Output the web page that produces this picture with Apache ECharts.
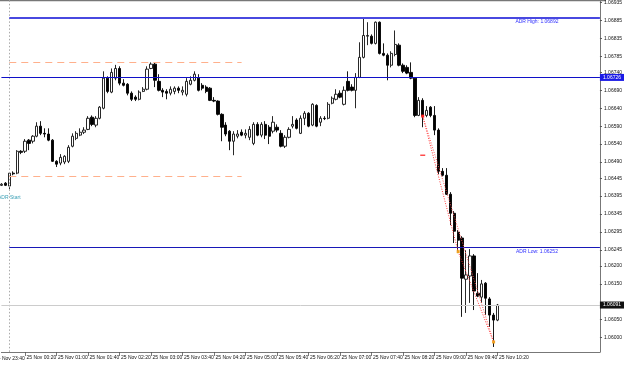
<!DOCTYPE html>
<html>
<head>
<meta charset="utf-8">
<script src="https://cdn.jsdelivr.net/npm/echarts@6/dist/echarts.min.js"></script>
<style>
  html, body { margin: 0; padding: 0; background: #fff; }
  #chart { width: 625px; height: 365px; }
</style>
</head>
<body>
<div id="chart"></div>
<script>
// EURUSD M5 style chart, 24 Nov 23:50 .. 25 Nov 10:20 plus empty shift space on the right

const SLOT_COUNT = 153;

const opens = [
  1.06425, 1.06431, 1.06423, 1.06459, 1.06459, 1.06520, 1.06520, 1.06551, 1.06548, 1.06562,
  1.06590, 1.06570, 1.06568, 1.06551, 1.06492, 1.06487, 1.06490, 1.06492, 1.06534, 1.06556,
  1.06565, 1.06573, 1.06581, 1.06615, 1.06593, 1.06612, 1.06640, 1.06724, 1.06685, 1.06724,
  1.06751, 1.06710, 1.06707, 1.06682, 1.06671, 1.06665, 1.06687, 1.06693, 1.06751, 1.06763,
  1.06715, 1.06690, 1.06687, 1.06682, 1.06687, 1.06696, 1.06685, 1.06679, 1.06707, 1.06718,
  1.06724, 1.06704, 1.06699, 1.06696, 1.06662, 1.06660, 1.06623, 1.06593, 1.06576, 1.06548,
  1.06562, 1.06573, 1.06565, 1.06559, 1.06542, 1.06595, 1.06565, 1.06595, 1.06587, 1.06576,
  1.06587, 1.06570, 1.06534, 1.06559, 1.06590, 1.06607, 1.06570, 1.06612, 1.06626, 1.06593,
  1.06648, 1.06601, 1.06612, 1.06612, 1.06654, 1.06665, 1.06682, 1.06651, 1.06715, 1.06699,
  1.06690, 1.06726, 1.06782, 1.06841, 1.06841, 1.06821, 1.06880, 1.06793, 1.06788, 1.06760,
  1.06790, 1.06816, 1.06760, 1.06754, 1.06740, 1.06724, 1.06620, 1.06662, 1.06620, 1.06643,
  1.06620, 1.06579, 1.06464, 1.06453, 1.06400, 1.06347, 1.06294, 1.06278, 1.06163, 1.06172,
  1.06228, 1.06124, 1.06113, 1.06152, 1.06108, 1.06063, 1.06049
];
const closes = [
  1.06428, 1.06425, 1.06459, 1.06457, 1.06520, 1.06517, 1.06548, 1.06542, 1.06562, 1.06590,
  1.06570, 1.06568, 1.06551, 1.06492, 1.06484, 1.06503, 1.06506, 1.06531, 1.06562, 1.06570,
  1.06573, 1.06579, 1.06612, 1.06595, 1.06612, 1.06643, 1.06724, 1.06687, 1.06740, 1.06751,
  1.06710, 1.06704, 1.06682, 1.06665, 1.06665, 1.06685, 1.06693, 1.06749, 1.06763, 1.06718,
  1.06690, 1.06685, 1.06682, 1.06693, 1.06696, 1.06690, 1.06690, 1.06715, 1.06718, 1.06735,
  1.06690, 1.06696, 1.06687, 1.06662, 1.06660, 1.06623, 1.06587, 1.06568, 1.06548, 1.06568,
  1.06568, 1.06565, 1.06570, 1.06581, 1.06595, 1.06565, 1.06595, 1.06565, 1.06562, 1.06601,
  1.06579, 1.06534, 1.06559, 1.06581, 1.06595, 1.06584, 1.06612, 1.06626, 1.06590, 1.06651,
  1.06590, 1.06612, 1.06611, 1.06651, 1.06668, 1.06679, 1.06671, 1.06690, 1.06690, 1.06690,
  1.06726, 1.06782, 1.06843, 1.06843, 1.06821, 1.06880, 1.06793, 1.06788, 1.06760, 1.06793,
  1.06818, 1.06760, 1.06743, 1.06738, 1.06724, 1.06620, 1.06662, 1.06618, 1.06634, 1.06620,
  1.06579, 1.06464, 1.06453, 1.06400, 1.06347, 1.06297, 1.06272, 1.06166, 1.06175, 1.06228,
  1.06130, 1.06116, 1.06150, 1.06110, 1.06063, 1.06049, 1.06091
];
const highs = [
  1.06431, 1.06434, 1.06462, 1.06464, 1.06523, 1.06523, 1.06554, 1.06554, 1.06565, 1.06601,
  1.06604, 1.06584, 1.06584, 1.06554, 1.06495, 1.06512, 1.06509, 1.06537, 1.06570, 1.06576,
  1.06584, 1.06587, 1.06618, 1.06620, 1.06618, 1.06646, 1.06743, 1.06729, 1.06751, 1.06761,
  1.06757, 1.06721, 1.06710, 1.06687, 1.06676, 1.06690, 1.06699, 1.06757, 1.06768, 1.06768,
  1.06735, 1.06696, 1.06693, 1.06701, 1.06701, 1.06701, 1.06701, 1.06724, 1.06729, 1.06743,
  1.06735, 1.06710, 1.06704, 1.06699, 1.06671, 1.06662, 1.06626, 1.06601, 1.06579, 1.06576,
  1.06579, 1.06581, 1.06581, 1.06590, 1.06601, 1.06601, 1.06601, 1.06604, 1.06593, 1.06618,
  1.06595, 1.06579, 1.06565, 1.06587, 1.06618, 1.06612, 1.06620, 1.06632, 1.06629, 1.06654,
  1.06651, 1.06618, 1.06618, 1.06657, 1.06673, 1.06693, 1.06690, 1.06701, 1.06743, 1.06707,
  1.06738, 1.06824, 1.06892, 1.06880, 1.06846, 1.06882, 1.06882, 1.06821, 1.06793, 1.06799,
  1.06857, 1.06821, 1.06765, 1.06760, 1.06768, 1.06726, 1.06671, 1.06668, 1.06646, 1.06646,
  1.06646, 1.06584, 1.06473, 1.06473, 1.06406, 1.06353, 1.06300, 1.06283, 1.06244, 1.06247,
  1.06233, 1.06180, 1.06161, 1.06155, 1.06113, 1.06069, 1.06094
];
const lows = [
  1.06423, 1.06423, 1.06414, 1.06453, 1.06456, 1.06512, 1.06515, 1.06523, 1.06542, 1.06559,
  1.06565, 1.06559, 1.06548, 1.06490, 1.06476, 1.06481, 1.06484, 1.06487, 1.06531, 1.06551,
  1.06562, 1.06568, 1.06579, 1.06590, 1.06587, 1.06609, 1.06637, 1.06682, 1.06682, 1.06718,
  1.06704, 1.06701, 1.06676, 1.06660, 1.06660, 1.06662, 1.06685, 1.06690, 1.06749, 1.06699,
  1.06687, 1.06671, 1.06665, 1.06676, 1.06679, 1.06682, 1.06676, 1.06673, 1.06704, 1.06715,
  1.06687, 1.06690, 1.06682, 1.06660, 1.06657, 1.06620, 1.06548, 1.06562, 1.06523, 1.06509,
  1.06556, 1.06562, 1.06556, 1.06551, 1.06537, 1.06562, 1.06559, 1.06554, 1.06540, 1.06570,
  1.06573, 1.06531, 1.06529, 1.06556, 1.06584, 1.06581, 1.06568, 1.06593, 1.06587, 1.06590,
  1.06587, 1.06590, 1.06607, 1.06609, 1.06651, 1.06662, 1.06668, 1.06648, 1.06687, 1.06687,
  1.06640, 1.06724, 1.06779, 1.06816, 1.06818, 1.06818, 1.06790, 1.06785, 1.06718, 1.06754,
  1.06785, 1.06757, 1.06738, 1.06735, 1.06721, 1.06615, 1.06618, 1.06587, 1.06615, 1.06615,
  1.06565, 1.06456, 1.06450, 1.06398, 1.06314, 1.06264, 1.06236, 1.06058, 1.06069, 1.06097,
  1.06077, 1.06113, 1.06097, 1.06063, 1.06030, 1.05974, 1.06046
];

// time scale labels, one every 8 bars (40 min); the first one falls just left of the chart
const timeLabels = [
  "24 Nov 23:40", "25 Nov 00:20", "25 Nov 01:00", "25 Nov 01:40", "25 Nov 02:20",
  "25 Nov 03:00", "25 Nov 03:40", "25 Nov 04:20", "25 Nov 05:00", "25 Nov 05:40",
  "25 Nov 06:20", "25 Nov 07:00", "25 Nov 07:40", "25 Nov 08:20", "25 Nov 09:00",
  "25 Nov 09:40", "25 Nov 10:20"
];
const priceLabels = [
  1.06935, 1.06885, 1.06835, 1.06785, 1.06740, 1.06690, 1.06640, 1.06590, 1.06540, 1.06490,
  1.06445, 1.06395, 1.06345, 1.06295, 1.06245, 1.06200, 1.06150, 1.06050, 1.06000, 1.05955
];

// levels
const adrHigh = 1.06892;
const adrLow = 1.06252;
const levelLine = 1.06726;
const bidLine = 1.06091;
const rangeTop = 1.06768;
const rangeBottom = 1.06451;
const adrStartSlot = 2;     // 25 Nov 00:00
const rangeEndSlot = 61;
const adrTextSlot = 136;
const adrStartTextPrice = 1.06392;
const adrHighTextPrice = 1.06881;
const adrLowTextPrice = 1.06241;

// red dotted swing lines: [slot, price]
const swingPts = [[107, 1.06618], [116, 1.06240], [125, 1.05988]];
const redDash = [107, 1.06509];

const slots = [];
for (let i = 0; i < SLOT_COUNT; i++) {
  const m = (23 * 60 + 50 + i * 5) % 1440;
  slots.push(String(Math.floor(m / 60)).padStart(2, "0") + ":" + String(m % 60).padStart(2, "0"));
}

const candles = slots.map((_, i) =>
  i < opens.length ? [opens[i], closes[i], lows[i], highs[i]] : "-"
);

// slot of the first on-chart time label (00:20) and label step
const LABEL_START = 6;
const LABEL_STEP = 8;
const isLabelSlot = (i) =>
  i >= LABEL_START && (i - LABEL_START) % LABEL_STEP === 0 &&
  (i - LABEL_START) / LABEL_STEP + 1 < timeLabels.length;

const FONT = "Liberation Sans";
const chart = echarts.init(document.getElementById("chart"), null, { renderer: "canvas" });

const hLine = (v, from, to, style, label) => [
  { coord: [from, v], lineStyle: style, label: label || { show: false } },
  { coord: [to, v] },
];
const priceTag = (v, bg) => ({
  show: true, position: "end", distance: 0, formatter: v.toFixed(5),
  backgroundColor: bg, color: "#fff", fontSize: 5, fontFamily: FONT,
  padding: [1, 3, 1, 3],
});

chart.setOption({
  animation: false,
  backgroundColor: "#ffffff",
  grid: { left: 1.4, right: 19, top: 0, bottom: 13 },
  xAxis: {
    type: "category",
    data: slots,
    boundaryGap: false,
    axisLine: { onZero: false, lineStyle: { color: "#777", width: 1 } },
    axisTick: {
      length: 4,
      lineStyle: { color: "#555", width: 0.8 },
      interval: isLabelSlot,
    },
    axisLabel: {
      interval: isLabelSlot,
      formatter: (v, i) => timeLabels[(i - LABEL_START) / LABEL_STEP + 1] || "",
      align: "left",
      padding: [0, 0, 0, 1.5],
      margin: 3,
      color: "#111",
      fontSize: 5,
      fontFamily: FONT,
    },
    splitLine: { show: false },
  },
  yAxis: {
    type: "value",
    position: "right",
    min: 1.05960,
    max: 1.06941,
    scale: true,
    axisLine: { show: true, lineStyle: { color: "#777", width: 1 } },
    axisTick: {
      show: true, length: 2, customValues: priceLabels,
      lineStyle: { color: "#555", width: 1 },
    },
    axisLabel: {
      customValues: priceLabels,
      formatter: (v) => v.toFixed(5),
      margin: 4,
      color: "#111",
      fontSize: 5,
      fontFamily: FONT,
    },
    splitLine: { show: false },
  },
  graphic: [
    // chart frame top edge
    { type: "line", silent: true, shape: { x1: 0, y1: 0.5, x2: 606, y2: 0.5 }, style: { stroke: "#777", lineWidth: 1.5 } },
    // first time label sits left of the visible area and is cut off
    {
      type: "text", silent: true, x: -5, y: 356,
      style: { text: timeLabels[0], fill: "#111", fontSize: 5, fontFamily: FONT },
    },
  ],
  series: [
    {
      type: "candlestick",
      data: candles,
      barWidth: 2.8,
      clip: false,
      itemStyle: {
        color: "#ffffff",
        color0: "#000000",
        borderColor: "#111111",
        borderColor0: "#000000",
        borderWidth: 0.9,
      },
      markLine: {
        silent: true,
        symbol: ["none", "none"],
        label: { show: false },
        data: [
          [{ coord: [adrStartSlot, 1.06941], lineStyle: { color: "#aaa", type: [1.5, 2], width: 1 } },
           { coord: [adrStartSlot, 1.05960] }],
          hLine(rangeTop, adrStartSlot, rangeEndSlot, { color: "#ffb08c", type: [7, 5], width: 1 }),
          hLine(rangeBottom, adrStartSlot, rangeEndSlot, { color: "#ffb08c", type: [7, 5], width: 1 }),
          hLine(adrHigh, adrStartSlot, SLOT_COUNT - 1, { color: "#4848e0", type: "solid", width: 2 }),
          hLine(adrLow, adrStartSlot, SLOT_COUNT - 1, { color: "#1818b8", type: "solid", width: 1.2 }),
          hLine(bidLine, 0, SLOT_COUNT - 1, { color: "#cccccc", type: "solid", width: 1 }, priceTag(bidLine, "#111")),
          hLine(levelLine, 0, SLOT_COUNT - 1, { color: "#1010c8", type: "solid", width: 1.2 }, priceTag(levelLine, "#1a1ae6")),
          [{ coord: swingPts[0], lineStyle: { color: "#ff3333", type: [1, 1.5], width: 1 } },
           { coord: swingPts[1] }],
          [{ coord: swingPts[1], lineStyle: { color: "#ff3333", type: [1, 1.5], width: 1 } },
           { coord: swingPts[2] }],
          [{ coord: swingPts[0], lineStyle: { color: "#ff5555", type: [1, 1.5], width: 1 } },
           { coord: swingPts[2] }],
        ],
      },
      markPoint: {
        silent: true,
        data: [
          { coord: swingPts[0], symbol: "rect", symbolSize: [3, 3], itemStyle: { color: "#ff2020" }, label: { show: false } },
          { coord: redDash, symbol: "rect", symbolSize: [5, 1.2], itemStyle: { color: "#ff2020" }, label: { show: false } },
          { coord: swingPts[1], symbol: "rect", symbolSize: [3, 3], itemStyle: { color: "#f0a020" }, label: { show: false } },
          { coord: swingPts[2], symbol: "rect", symbolSize: [3, 3], itemStyle: { color: "#f0a020" }, label: { show: false } },
          {
            coord: [adrStartSlot, adrStartTextPrice], symbolSize: 0,
            label: { show: true, position: "inside", formatter: "ADR Start", color: "#3a9fb5", fontSize: 5, fontFamily: FONT },
          },
          {
            coord: [adrTextSlot, adrHighTextPrice], symbolSize: 0,
            label: { show: true, position: "inside", formatter: "ADR High: " + adrHigh.toFixed(5), color: "#3030ff", fontSize: 5, fontFamily: FONT },
          },
          {
            coord: [adrTextSlot, adrLowTextPrice], symbolSize: 0,
            label: { show: true, position: "inside", formatter: "ADR Low: " + adrLow.toFixed(5), color: "#3030ff", fontSize: 5, fontFamily: FONT },
          },
        ],
      },
    },
  ],
});
</script>
</body>
</html>
